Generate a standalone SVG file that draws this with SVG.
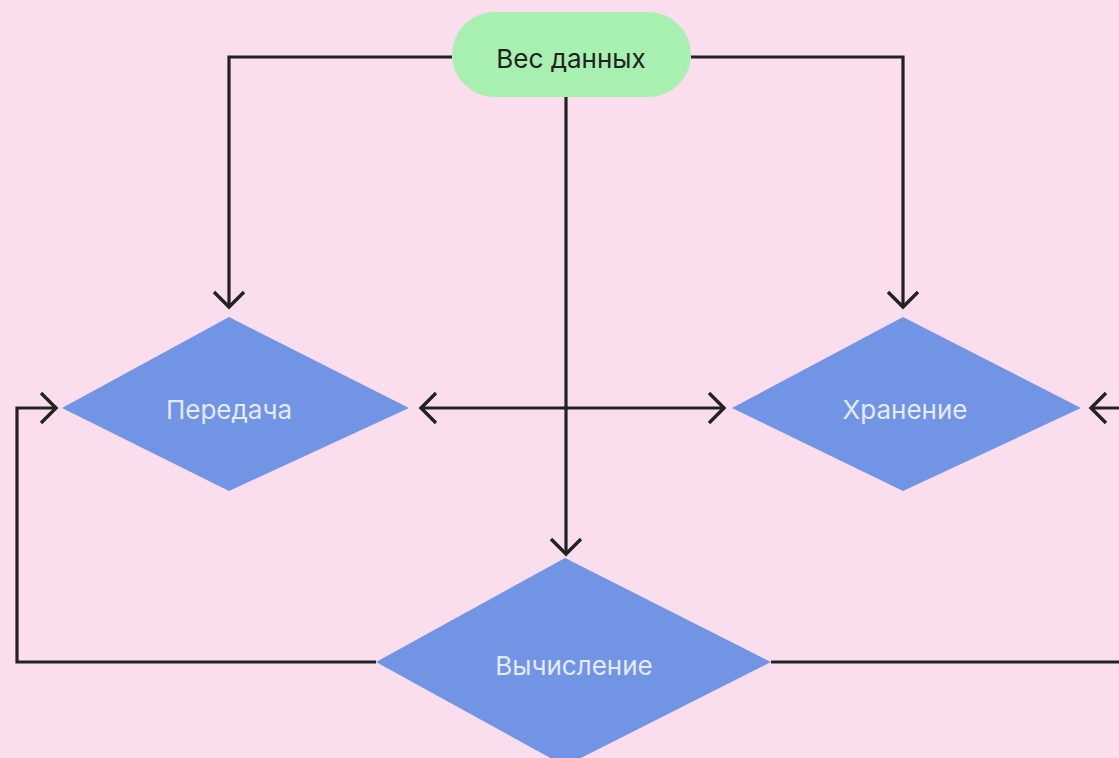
<svg xmlns="http://www.w3.org/2000/svg" width="1119" height="758" viewBox="0 0 1119 758">
<defs>
<style>
.edge{fill:none;stroke:#222222;stroke-width:3.2;stroke-linejoin:miter}
.dia{fill:#7294e4}
.dlabel{font-family:Inter,"Noto Sans","DejaVu Sans",sans-serif;font-size:26px;fill:#e4ebff;text-anchor:middle;dominant-baseline:central}
.plabel{font-family:Inter,"Noto Sans","DejaVu Sans",sans-serif;font-size:26px;fill:#222222;text-anchor:middle;dominant-baseline:central}
</style>
<marker id="arr" markerUnits="userSpaceOnUse" markerWidth="40" markerHeight="40" viewBox="-20 -20 40 40" refX="0" refY="0" orient="auto-start-reverse" overflow="visible">
<path d="M-15,-15 L0,0 L-15,15" fill="none" stroke="#222222" stroke-width="3.4"/>
</marker>
</defs>
<rect width="1119" height="758" fill="#fbdeed"/>
<g id="connectors">
<path class="edge" d="M452,57 H229 V307" marker-end="url(#arr)"/>
<path class="edge" d="M691,57 H903 V307" marker-end="url(#arr)"/>
<path class="edge" d="M566,97 V554" marker-end="url(#arr)"/>
<path class="edge" d="M421,408 H724" marker-start="url(#arr)" marker-end="url(#arr)"/>
<path class="edge" d="M376,662 H17 V408 H56" marker-end="url(#arr)"/>
<path class="edge" d="M771,662 H1125"/>
<path class="edge" d="M1125,408 H1091" marker-end="url(#arr)"/>
</g>
<g id="node-ves">
<rect x="452" y="12" width="239" height="85" rx="42.5" fill="#a8f0b0"/>
<text class="plabel" x="571" y="58">Вес данных</text>
</g>
<g id="node-peredacha">
<polygon class="dia" points="229,317 409,408 229,491 62,408"/>
<text class="dlabel" x="229" y="409">Передача</text>
</g>
<g id="node-hranenie">
<polygon class="dia" points="903,317 1081,408 903,491 732,408"/>
<text class="dlabel" x="905" y="409">Хранение</text>
</g>
<g id="node-vychislenie">
<polygon class="dia" points="565,558 771,662 565,766 376,662"/>
<text class="dlabel" x="574" y="665">Вычисление</text>
</g>
</svg>
